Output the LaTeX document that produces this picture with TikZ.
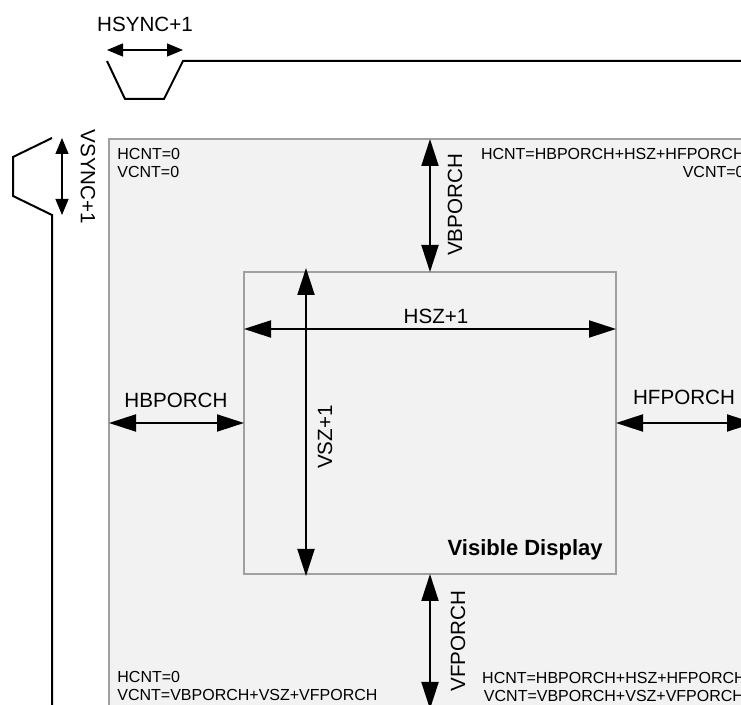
\documentclass[tikz,border=0pt]{standalone}
\usepackage{fontspec}
\setmainfont{Liberation Sans}
\usetikzlibrary{arrows.meta}
\definecolor{Panel}{HTML}{F2F2F2}
\definecolor{Edge}{HTML}{A0A0A0}

\begin{document}
\begin{tikzpicture}[x=0.5pt,y=-0.5pt,
    box/.style={draw=Edge,fill=Panel,line width=0.6pt,inner sep=0pt,outer sep=0pt},
    wave/.style={line width=1pt},
    bigarrow/.style={line width=1pt,{Triangle[length=13.5pt,width=8.5pt]}-{Triangle[length=13.5pt,width=8.5pt]}},
    smallarrow/.style={line width=0.6pt,{Triangle[length=8pt,width=6.5pt]}-{Triangle[length=8pt,width=6.5pt]}},
    biglabel/.style={font=\fontsize{10.3}{12}\selectfont,inner sep=0pt},
    cntlabel/.style={font=\fontsize{8}{9.2}\selectfont,inner sep=0pt}]
  \useasboundingbox (0,0) rectangle (741,705);
  \clip (0,0) rectangle (741,705);
  % screen area and visible window
  \node[box,anchor=north west,minimum width=322.5pt,minimum height=285pt] (frame) at (109,139) {};
  \node[box,minimum width=186pt,minimum height=151pt] (display) at (430,423) {};
  % sync pulses
  \draw[wave] (107,61) -- (125,99) -- (164,99) -- (183,61) -- (745,61);
  \draw[wave] (52,138) -- (13,157) -- (13,196) -- (52,215) -- (52,710);
  \coordinate (hs1) at (107,50);
  \coordinate (hs2) at (183,50);
  \coordinate (vs1) at (62,138);
  \coordinate (vs2) at (62,215);
  \draw[smallarrow] (hs1) -- (hs2);
  \draw[smallarrow] (vs1) -- (vs2);
  \node[biglabel,anchor=base] (hsync) at (145,32) {HSYNC+1};
  \node[biglabel,rotate=-90] (vsync) at (88,177) {VSYNC+1};
  % porches
  \draw[bigarrow] (frame.west |- display.west) -- (display.west);
  \draw[bigarrow] (display.east) -- (frame.east |- display.east);
  \draw[bigarrow] (display.north) -- (display.north |- frame.north);
  \draw[bigarrow] (display.south) -- (display.south |- frame.south);
  \node[biglabel,anchor=base] (hbporch) at (176,408) {HBPORCH};
  \node[biglabel,anchor=base] (hfporch) at (684,405) {HFPORCH};
  \node[biglabel,rotate=90] (vbporch) at (455,205) {VBPORCH};
  \node[biglabel,rotate=90] (vfporch) at (458,641) {VFPORCH};
  % visible size
  \draw[bigarrow] ([yshift=-28.5pt]display.north west) -- ([yshift=-28.5pt]display.north east);
  \draw[bigarrow] ([xshift=31pt,yshift=2pt]display.north west) -- ([xshift=31pt,yshift=-1pt]display.south west);
  \node[biglabel,anchor=base] (hsz) at (436,324) {HSZ+1};
  \node[biglabel,rotate=90] (vsz) at (325,437) {VSZ+1};
  \node[font=\fontsize{11}{13}\selectfont\bfseries,inner sep=0pt,anchor=base east] (visible) at (603,556) {Visible Display};
  % counter values at the corners
  \node[cntlabel,align=left,anchor=north west] (topleft) at (117,148) {HCNT=0\\VCNT=0};
  \node[cntlabel,align=right,anchor=north east] (topright) at (745,148) {HCNT=HBPORCH+HSZ+HFPORCH\\VCNT=0};
  \node[cntlabel,align=left,anchor=north west] (botleft) at (117,671) {HCNT=0\\VCNT=VBPORCH+VSZ+VFPORCH};
  \node[cntlabel,align=center,anchor=north] (botright) at (614,672) {HCNT=HBPORCH+HSZ+HFPORCH\\VCNT=VBPORCH+VSZ+VFPORCH};
\end{tikzpicture}
\end{document}
